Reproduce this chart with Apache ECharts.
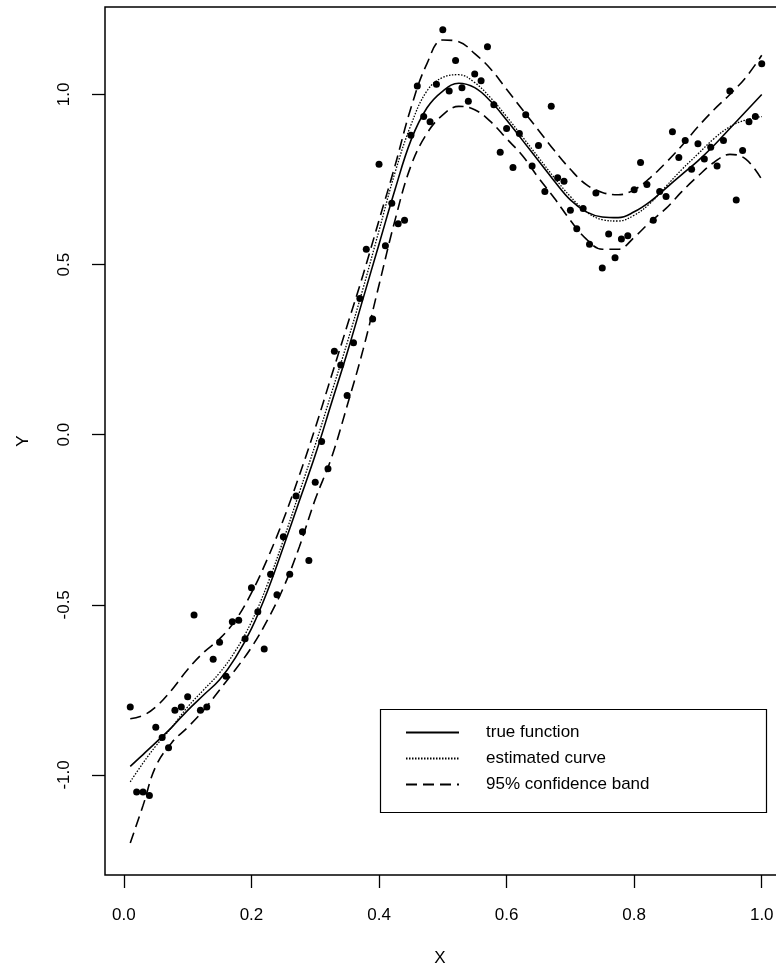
<!DOCTYPE html>
<html>
<head>
<meta charset="utf-8">
<script src="https://cdn.jsdelivr.net/npm/echarts@6/dist/echarts.min.js"></script>
<style>
  html, body { margin: 0; padding: 0; background: #fff; }
  #chart { width: 776px; height: 968px; }
</style>
</head>
<body>
<div id="chart"></div>
<script>
'use strict';

// observed data
var obsX = [0.01, 0.02, 0.03, 0.04, 0.05, 0.06, 0.07, 0.08, 0.09, 0.10,
            0.11, 0.12, 0.13, 0.14, 0.15, 0.16, 0.17, 0.18, 0.19, 0.20,
            0.21, 0.22, 0.23, 0.24, 0.25, 0.26, 0.27, 0.28, 0.29, 0.30,
            0.31, 0.32, 0.33, 0.34, 0.35, 0.36, 0.37, 0.38, 0.39, 0.40,
            0.41, 0.42, 0.43, 0.44, 0.45, 0.46, 0.47, 0.48, 0.49, 0.50,
            0.51, 0.52, 0.53, 0.54, 0.55, 0.56, 0.57, 0.58, 0.59, 0.60,
            0.61, 0.62, 0.63, 0.64, 0.65, 0.66, 0.67, 0.68, 0.69, 0.70,
            0.71, 0.72, 0.73, 0.74, 0.75, 0.76, 0.77, 0.78, 0.79, 0.80,
            0.81, 0.82, 0.83, 0.84, 0.85, 0.86, 0.87, 0.88, 0.89, 0.90,
            0.91, 0.92, 0.93, 0.94, 0.95, 0.96, 0.97, 0.98, 0.99, 1.00];
var obsY = [-0.80, -1.05, -1.05, -1.06, -0.86, -0.89, -0.92, -0.81, -0.80, -0.77,
            -0.53, -0.81, -0.80, -0.66, -0.61, -0.71, -0.55, -0.545, -0.60, -0.45,
            -0.52, -0.63, -0.41, -0.47, -0.30, -0.41, -0.18, -0.285, -0.37, -0.14,
            -0.02, -0.10, 0.245, 0.205, 0.115, 0.27, 0.40, 0.545, 0.34, 0.795,
            0.555, 0.68, 0.62, 0.63, 0.88, 1.025, 0.935, 0.92, 1.03, 1.19,
            1.01, 1.10, 1.02, 0.98, 1.06, 1.04, 1.14, 0.97, 0.83, 0.90,
            0.785, 0.885, 0.94, 0.79, 0.85, 0.715, 0.965, 0.755, 0.745, 0.66,
            0.605, 0.665, 0.56, 0.71, 0.49, 0.59, 0.52, 0.575, 0.585, 0.72,
            0.80, 0.735, 0.63, 0.715, 0.70, 0.89, 0.815, 0.865, 0.78, 0.855,
            0.81, 0.845, 0.79, 0.865, 1.01, 0.69, 0.835, 0.92, 0.935, 1.09];

// curves, read at these x positions
var curveX = [0.01, 0.03, 0.05, 0.075, 0.10, 0.125, 0.15, 0.175, 0.20, 0.225,
              0.25, 0.275, 0.30, 0.325, 0.35, 0.375, 0.40, 0.425, 0.45, 0.475,
              0.50, 0.525, 0.55, 0.575, 0.60, 0.625, 0.65, 0.675, 0.70, 0.725,
              0.75, 0.775, 0.80, 0.825, 0.85, 0.875, 0.90, 0.925, 0.95, 0.975, 1.00];
var trueY = [-0.975, -0.94, -0.905, -0.86, -0.81, -0.765, -0.72, -0.655, -0.57, -0.46,
             -0.33, -0.195, -0.06, 0.09, 0.24, 0.40, 0.56, 0.72, 0.865, 0.96,
             1.01, 1.033, 1.02, 0.98, 0.925, 0.865, 0.805, 0.745, 0.69, 0.655,
             0.64, 0.638, 0.655, 0.685, 0.725, 0.765, 0.805, 0.85, 0.90, 0.95, 1.00];
var estY = [-1.02, -0.965, -0.915, -0.86, -0.80, -0.75, -0.70, -0.635, -0.55, -0.44,
            -0.31, -0.17, -0.03, 0.12, 0.27, 0.43, 0.60, 0.77, 0.91, 1.01,
            1.05, 1.058, 1.035, 0.99, 0.935, 0.875, 0.815, 0.755, 0.70, 0.655,
            0.632, 0.628, 0.645, 0.68, 0.73, 0.78, 0.825, 0.87, 0.905, 0.925, 0.935];
var upperY = [-0.835, -0.825, -0.80, -0.75, -0.69, -0.64, -0.60, -0.545, -0.465, -0.365,
              -0.25, -0.12, 0.02, 0.17, 0.32, 0.47, 0.63, 0.79, 0.96, 1.09,
              1.16, 1.155, 1.12, 1.075, 1.015, 0.955, 0.895, 0.835, 0.78, 0.735,
              0.712, 0.705, 0.72, 0.755, 0.80, 0.85, 0.905, 0.955, 1.00, 1.05, 1.115];
var lowerY = [-1.20, -1.09, -0.975, -0.905, -0.86, -0.81, -0.75, -0.69, -0.625, -0.545,
              -0.45, -0.33, -0.19, -0.07, 0.085, 0.25, 0.44, 0.63, 0.79, 0.885,
              0.94, 0.965, 0.955, 0.92, 0.87, 0.82, 0.755, 0.695, 0.63, 0.575,
              0.545, 0.545, 0.58, 0.625, 0.665, 0.715, 0.76, 0.80, 0.824, 0.81, 0.75];

var xTicks = [0, 0.2, 0.4, 0.6, 0.8, 1.0];
var yTicks = [-1.0, -0.5, 0, 0.5, 1.0];
var legendNames = ['true function', 'estimated curve', '95% confidence band'];

var font = '"Liberation Sans", Arial, Helvetica, sans-serif';

var pairs = function(xs, ys) {
  return xs.map(function(x, i) { return [x, ys[i]]; });
};

var fmt = function(v) { return Number(v).toFixed(1); };

var curve = function(name, ys, type, width) {
  return {
    name: name,
    type: 'line',
    data: pairs(curveX, ys),
    smooth: 0.4,
    symbol: 'none',
    itemStyle: { color: '#000' },
    lineStyle: { color: '#000', width: width, type: type },
    z: 3
  };
};

var chart = echarts.init(document.getElementById('chart'), null, { renderer: 'canvas' });

chart.setOption({
  animation: false,
  backgroundColor: '#fff',
  textStyle: { fontFamily: font, color: '#000' },
  grid: {
    left: 105, top: 7, right: -11, bottom: 93,
    outerBoundsMode: 'none',
    containLabel: false,
    show: true, borderColor: '#000', borderWidth: 1.5
  },
  xAxis: {
    type: 'value',
    min: -0.0296,
    max: 1.0396,
    name: 'X',
    nameLocation: 'middle',
    nameGap: 75,
    nameTextStyle: { fontSize: 17, color: '#000', fontFamily: font, padding: [0, 12, 0, 0] },
    axisLine: { show: false, onZero: false },
    splitLine: { show: false },
    axisTick: { show: true, length: 13, customValues: xTicks, lineStyle: { color: '#000', width: 1.3 } },
    axisLabel: { customValues: xTicks, formatter: fmt, fontSize: 17, color: '#000', margin: 32, fontFamily: font }
  },
  yAxis: {
    type: 'value',
    min: -1.294,
    max: 1.257,
    name: 'Y',
    nameLocation: 'middle',
    nameGap: 73,
    nameTextStyle: { fontSize: 17, color: '#000', fontFamily: font },
    axisLine: { show: false, onZero: false },
    splitLine: { show: false },
    axisTick: { show: true, length: 13, customValues: yTicks, lineStyle: { color: '#000', width: 1.3 } },
    axisLabel: { customValues: yTicks, formatter: fmt, rotate: 90, fontSize: 17, color: '#000', margin: 32, fontFamily: font }
  },
  legend: {
    data: legendNames,
    orient: 'vertical',
    left: 405,
    top: 724,
    padding: 0,
    itemWidth: 53,
    itemHeight: 14,
    itemGap: 9,
    selectedMode: false,
    itemStyle: { opacity: 0 },
    textStyle: { fontSize: 17, color: '#000', fontFamily: font, padding: [0, 0, 0, 22] }
  },
  graphic: [{
    type: 'rect',
    left: 378,
    top: 707,
    shape: { width: 386, height: 103 },
    style: { fill: 'none', stroke: '#000', lineWidth: 1.2 },
    z: 10
  }],
  series: [
    {
      name: 'observations',
      type: 'scatter',
      data: pairs(obsX, obsY),
      symbol: 'circle',
      symbolSize: 7,
      itemStyle: { color: '#000', opacity: 1 },
      z: 4
    },
    curve(legendNames[0], trueY, 'solid', 1.6),
    curve(legendNames[1], estY, [1.5, 1.5], 1.3),
    curve(legendNames[2], upperY, [11, 6], 1.6),
    curve(legendNames[2], lowerY, [11, 6], 1.6)
  ]
});
</script>
</body>
</html>
